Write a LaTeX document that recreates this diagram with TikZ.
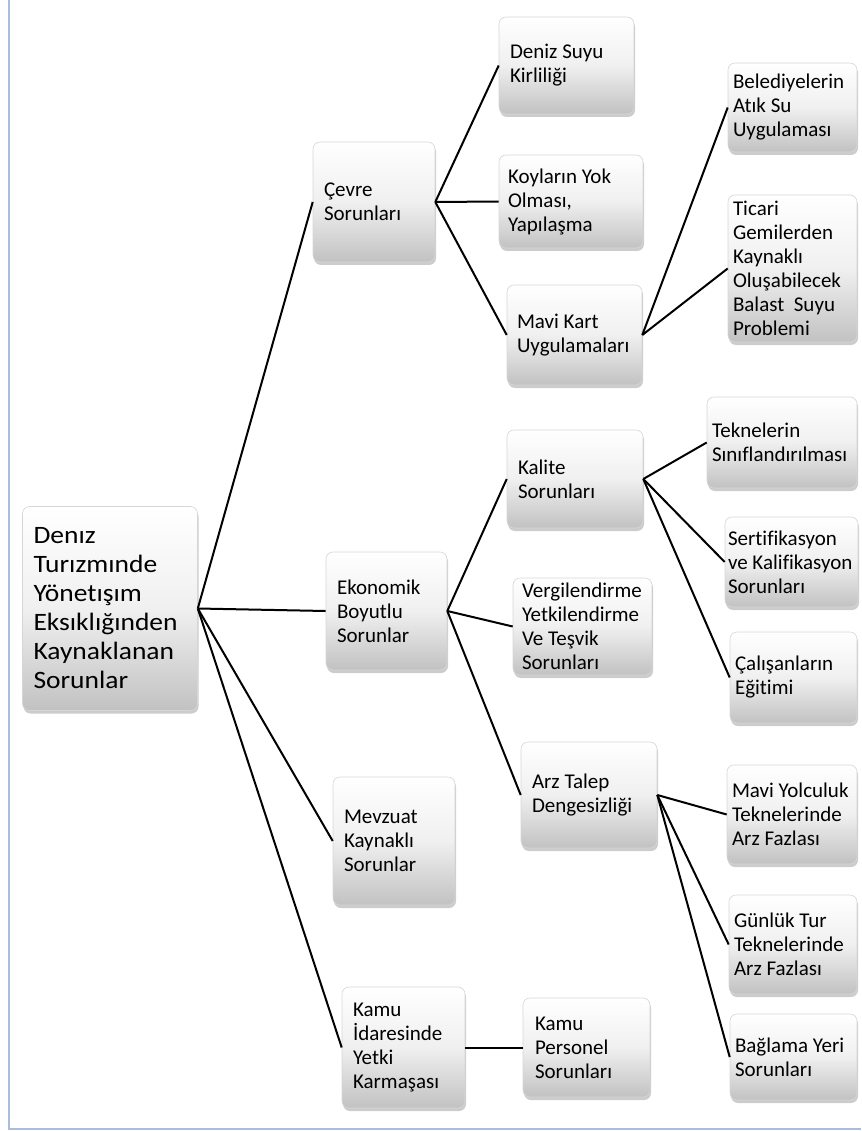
\documentclass[tikz,border=0pt]{standalone}
\usepackage{fontspec}
\setmainfont{Carlito}[Ligatures=NoCommon]
\newfontfamily\rootfont{Carlito}[Ligatures=NoCommon, FakeStretch=1.1]
\usetikzlibrary{shadows}
\definecolor{frameblue}{RGB}{166,189,219}
\newcommand\fixspaces{\spaceskip=\fontdimen2\font\relax}
\begin{document}
\begin{tikzpicture}[x=1pt,y=-1pt,
  box/.style={rectangle, rounded corners=7pt, draw=black!16, line width=0.6pt,
    top color=white, bottom color=black!24, middle color=black!6,
    drop shadow={shadow xshift=1pt, shadow yshift=-3pt, opacity=0.2, fill=black},
    align=left, inner ysep=2pt,
    font=\fontsize{21}{24}\selectfont, execute at begin node=\fixspaces},
  rootbox/.style={box, font=\rootfont\fontsize{25}{29}\selectfont},
  link/.style={line width=2pt, black},
  frame/.style={frameblue, line width=1.8pt}
]
\useasboundingbox (0,0) rectangle (861,1131);
\draw[frame] (9.2,0) -- (9.2,1129.2) -- (861,1129.2);

% level 0
\node[rootbox, minimum width=175pt, minimum height=204pt, inner xsep=11pt, text width=153pt] (root) at (110,608.5)
  {Denız\\Turızmınde\\Yönetışım\\Eksıklığınden\\Kaynaklanan\\Sorunlar};

% level 1
\node[box, minimum width=122pt, minimum height=120pt, inner xsep=11pt, text width=100pt] (cevre) at (374,202)
  {Çevre\\Sorunları};
\node[box, minimum width=121pt, minimum height=118pt, inner xsep=11pt, text width=99pt] (ekon) at (386.5,611)
  {Ekonomik\\Boyutlu\\Sorunlar};
\node[box, minimum width=122pt, minimum height=128pt, inner xsep=11pt, text width=100pt] (mevz) at (394,841)
  {Mevzuat\\Kaynaklı\\Sorunlar};
\node[box, minimum width=123pt, minimum height=121pt, inner xsep=11pt, text width=101pt] (kamuid) at (403.5,1047.5)
  {Kamu\\İdaresinde\\Yetki\\Karmaşası};

% level 2
\node[box, minimum width=135pt, minimum height=97pt, inner xsep=11pt, text width=113pt] (deniz) at (566.5,65.5)
  {Deniz~Suyu\\Kirliliği};
\node[box, minimum width=144pt, minimum height=93pt, inner xsep=9pt, text width=126pt] (koy) at (571,201.5)
  {Koyların~Yok\\Olması,\\Yapılaşma};
\node[box, minimum width=135pt, minimum height=100pt, inner xsep=10pt, text width=115pt] (mavik) at (574.5,335)
  {Mavi~Kart\\Uygulamaları};
\node[box, minimum width=136pt, minimum height=98pt, inner xsep=11pt, text width=114pt] (kalite) at (575,479)
  {Kalite\\Sorunları};
\node[box, minimum width=139pt, minimum height=97pt, inner xsep=9pt, text width=121pt] (verg) at (582.5,626.5)
  {Vergilendirme\\Yetkilendirme\\Ve~Teşvik\\Sorunları};
\node[box, minimum width=136pt, minimum height=106pt, inner xsep=11pt, text width=114pt] (arz) at (589,795)
  {Arz~Talep\\Dengesizliği};
\node[box, minimum width=127pt, minimum height=99pt, inner xsep=12pt, text width=103pt] (kamup) at (586.5,1047.5)
  {Kamu\\Personel\\Sorunları};

% level 3
\node[box, minimum width=129pt, minimum height=89pt, inner xsep=5pt, text width=119pt] (beled) at (792.5,107.5)
  {Belediyelerin\\Atık~Su\\Uygulaması};
\node[box, minimum width=129pt, minimum height=147pt, inner xsep=5pt, text width=119pt] (ticari) at (792.5,268.5)
  {Ticari\\Gemilerden\\Kaynaklı\\Oluşabilecek\\Balast~~Suyu\\Problemi};
\node[box, minimum width=150pt, minimum height=91pt, inner xsep=5pt, text width=140pt] (tekn) at (782,442.5)
  {Teknelerin\\Sınıflandırılması};
\node[box, minimum width=133pt, minimum height=90pt, inner xsep=3pt, text width=127pt] (sert) at (791.5,562)
  {Sertifikasyon\\ve~Kalifikasyon\\Sorunları};
\node[box, minimum width=127pt, minimum height=91pt, inner xsep=5pt, text width=117pt] (calis) at (793.5,677.5)
  {Çalışanların\\Eğitimi};
\node[box, minimum width=130pt, minimum height=99pt, inner xsep=5pt, text width=120pt] (maviy) at (792,814.5)
  {Mavi~Yolculuk\\Teknelerinde\\Arz~Fazlası};
\node[box, minimum width=128pt, minimum height=99pt, inner xsep=5pt, text width=118pt] (gunluk) at (793,944.5)
  {Günlük~Tur\\Teknelerinde\\Arz~Fazlası};
\node[box, minimum width=127pt, minimum height=86pt, inner xsep=5pt, text width=117pt] (baglama) at (793.5,1057)
  {Bağlama~Yeri\\Sorunları};

% connectors
\draw[link] (root.east) -- (cevre.west);
\draw[link] (root.east) -- (ekon.west);
\draw[link] (root.east) -- (mevz.west);
\draw[link] (root.east) -- (kamuid.west);
\draw[link] (cevre.east) -- (deniz.west);
\draw[link] (cevre.east) -- (koy.west);
\draw[link] (cevre.east) -- (mavik.west);
\draw[link] (mavik.east) -- (beled.west);
\draw[link] (mavik.east) -- (ticari.west);
\draw[link] (ekon.east) -- (kalite.west);
\draw[link] (ekon.east) -- (verg.west);
\draw[link] (ekon.east) -- (arz.west);
\draw[link] (kalite.east) -- (tekn.west);
\draw[link] (kalite.east) -- (sert.west);
\draw[link] (kalite.east) -- (calis.west);
\draw[link] (arz.east) -- (maviy.west);
\draw[link] (arz.east) -- (gunluk.west);
\draw[link] (arz.east) -- (baglama.west);
\draw[link] (kamuid.east) -- (kamup.west);
\end{tikzpicture}
\end{document}
